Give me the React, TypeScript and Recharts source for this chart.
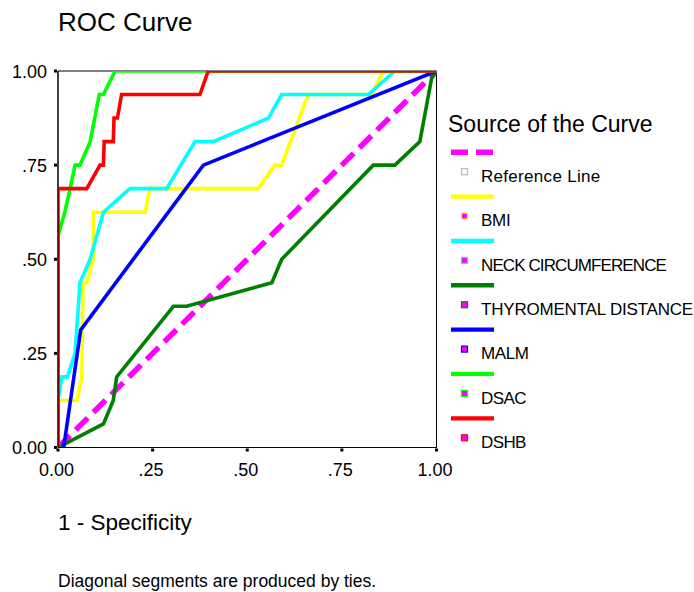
import React from 'react';
import { LineChart, Line, XAxis, YAxis, ReferenceArea } from 'recharts';

const FONT = '"Liberation Sans", Arial, Helvetica, sans-serif';

const tickValues = [0, 0.25, 0.5, 0.75, 1];
const tickLabels = ['0.00', '.25', '.50', '.75', '1.00'];

const seriesNames = ['Reference Line', 'BMI', 'NECK CIRCUMFERENCE', 'THYROMENTAL DISTANCE', 'MALM', 'DSAC', 'DSHB'];
const seriesColors = ['#FF00FF', '#FFFF00', '#00FFFF', '#008000', '#0000FF', '#00FF00', '#FF0000'];

const refLine = [[0, 0], [1, 1]];
const bmi = [[0, 0], [0, 0.125], [0.05, 0.125], [0.063, 0.1875], [0.066, 0.4375], [0.076, 0.4375], [0.093, 0.5], [0.093, 0.625], [0.23, 0.625], [0.243, 0.6875], [0.529, 0.6875], [0.573, 0.75], [0.591, 0.75], [0.661, 0.9375], [0.83, 0.9375], [0.859, 1], [1, 1]];
const neck = [[0, 0], [0, 0.125], [0.01, 0.1875], [0.025, 0.1875], [0.045, 0.25], [0.058, 0.4375], [0.085, 0.5], [0.12, 0.625], [0.19, 0.6875], [0.287, 0.6875], [0.362, 0.8125], [0.41, 0.8125], [0.556, 0.875], [0.591, 0.9375], [0.82, 0.9375], [0.89, 1], [1, 1]];
const thyro = [[0, 0], [0.12, 0.0625], [0.146, 0.125], [0.155, 0.1875], [0.305, 0.375], [0.34, 0.375], [0.565, 0.4375], [0.591, 0.5], [0.833, 0.75], [0.89, 0.75], [0.956, 0.8125], [0.987, 0.98], [1, 1]];
const malm = [[0.015, 0], [0.06, 0.3125], [0.384, 0.75], [1, 1]];
const dsac = [[0, 0], [0, 0.5625], [0.018, 0.625], [0.032, 0.6875], [0.045, 0.75], [0.058, 0.75], [0.085, 0.8125], [0.109, 0.9375], [0.12, 0.9375], [0.151, 1], [1, 1]];
const dshb = [[0, 0], [0, 0.6875], [0.076, 0.6875], [0.111, 0.75], [0.12, 0.75], [0.122, 0.8125], [0.146, 0.8125], [0.148, 0.875], [0.157, 0.875], [0.168, 0.9375], [0.375, 0.9375], [0.397, 1], [1, 1]];

const seriesData = [refLine, bmi, neck, thyro, malm, dsac, dshb];
const labelSpacing = [0.3, -0.3, -0.9, -0.2, -0.4, -0.6, -0.6];

const toPoints = (arr: number[][]) => arr.map(([x, y]) => ({ x, y }));

const labelFor = (v: number) => {
  const i = tickValues.findIndex((t) => Math.abs(t - v) < 1e-6);
  return i >= 0 ? tickLabels[i] : String(v);
};

const YTick = (props: any) => {
  const { x, y, payload } = props;
  return (
    <g>
      <rect x={x - 4} y={y - 1.5} width={3} height={3} fill="#000" />
      <text x={x - 11} y={y + 6.5} textAnchor="end" fontSize={18} fontFamily={FONT} fill="#000">
        {labelFor(payload.value)}
      </text>
    </g>
  );
};

const XTick = (props: any) => {
  const { x, y, payload } = props;
  return (
    <g>
      <rect x={x - 1.5} y={y + 1} width={3} height={3} fill="#000" />
      <text x={x - 1.5} y={y + 28.5} textAnchor="middle" fontSize={18} fontFamily={FONT} fill="#000">
        {labelFor(payload.value)}
      </text>
    </g>
  );
};

export default function App() {
  const legendTop = 152.2;
  const legendStep = 44.35;
  return (
    <div style={{ position: 'absolute', left: 0, top: 0, width: 694, height: 592, background: '#fff' }}>
      <LineChart
        width={694}
        height={592}
        margin={{ top: 71, right: 257.5, left: 8, bottom: 104.5 }}
      >
        <XAxis
          dataKey="x"
          type="number"
          domain={[0, 1]}
          ticks={tickValues}
          interval={0}
          height={40}
          tickSize={0}
          tickMargin={0}
          tickLine={false}
          axisLine={{ stroke: '#000', strokeWidth: 1 }}
          tick={XTick}
          allowDataOverflow
        />
        <YAxis
          dataKey="y"
          type="number"
          domain={[0, 1]}
          ticks={tickValues}
          interval={0}
          width={50}
          tickSize={0}
          tickMargin={0}
          tickLine={false}
          axisLine={{ stroke: '#000', strokeWidth: 1 }}
          tick={YTick}
          allowDataOverflow
        />
        <ReferenceArea x1={0} x2={1} y1={0} y2={1} fill="none" fillOpacity={0} stroke="#000" strokeWidth={1} strokeOpacity={1} />
        {seriesData.map((d, i) => (
          <Line
            key={seriesNames[i]}
            data={toPoints(d)}
            dataKey="y"
            name={seriesNames[i]}
            type="linear"
            stroke={seriesColors[i]}
            strokeWidth={i === 0 ? 5.5 : 3.6}
            strokeDasharray={i === 0 ? '17 8' : undefined}
            strokeLinecap="butt"
            strokeLinejoin="miter"
            dot={false}
            activeDot={false}
            isAnimationActive={false}
          />
        ))}
      </LineChart>
      <svg
        width={694}
        height={592}
        style={{ position: 'absolute', left: 0, top: 0, pointerEvents: 'none' }}
      >
        <text x={58} y={31} fontSize={26} fontFamily={FONT} fill="#000">ROC Curve</text>
        <text x={448} y={131.5} fontSize={23} fontFamily={FONT} fill="#000">Source of the Curve</text>
        {seriesNames.map((name, i) => {
          const ly = legendTop + i * legendStep;
          return (
            <g key={name}>
              <line
                x1={451}
                x2={494}
                y1={ly}
                y2={ly}
                stroke={seriesColors[i]}
                strokeWidth={i === 0 ? 5.5 : 4.3}
                strokeDasharray={i === 0 ? '17 8' : undefined}
              />
              <rect
                x={461.5}
                y={ly + 16.5}
                width={6}
                height={6}
                fill={i === 0 ? '#fff' : '#FF00FF'}
                stroke={i === 0 ? '#bbb' : seriesColors[i]}
                strokeWidth={1.2}
              />
              <text
                x={481}
                y={ly + 29.6}
                fontSize={17}
                fontFamily={FONT}
                fill="#000"
                letterSpacing={labelSpacing[i]}
              >
                {name}
              </text>
            </g>
          );
        })}
        <text x={58} y={530} fontSize={22.5} fontFamily={FONT} fill="#000">1 - Specificity</text>
        <text x={58} y={587} fontSize={17.5} fontFamily={FONT} fill="#000">Diagonal segments are produced by ties.</text>
      </svg>
    </div>
  );
}
